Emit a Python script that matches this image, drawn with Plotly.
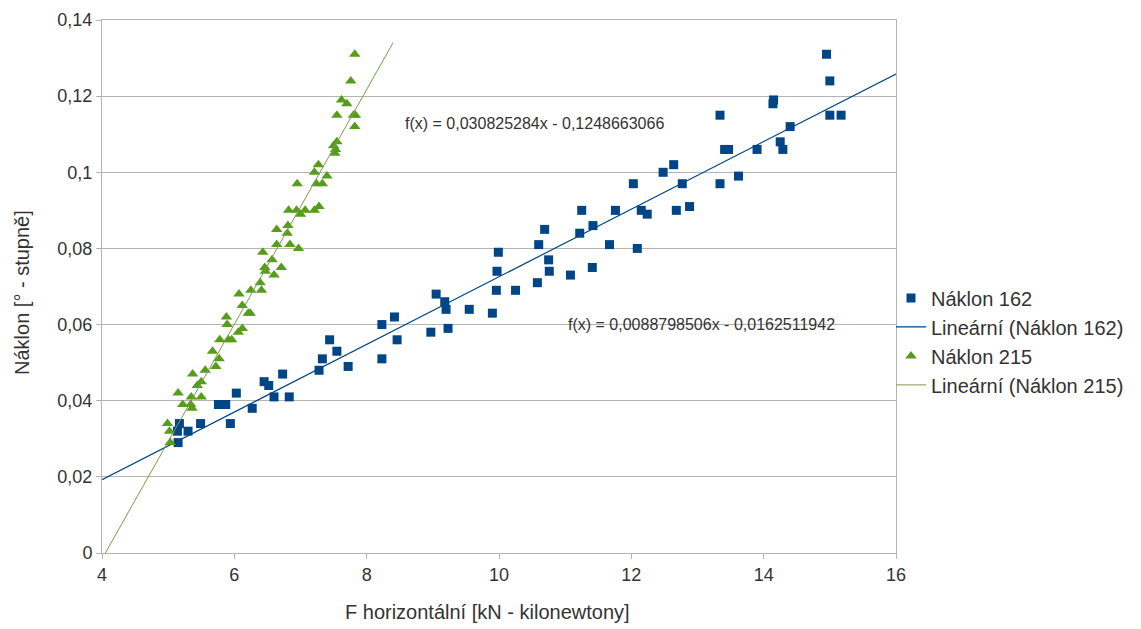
import plotly.graph_objects as go

# Náklon 162 (blue squares)
x162 = [5.14, 5.17, 5.15, 5.30, 5.49, 5.76, 5.87, 5.94, 6.03, 6.27, 6.45, 6.52, 6.60, 6.73, 6.83,
        7.28, 7.33, 7.44, 7.55, 7.72, 8.23, 8.23, 8.42, 8.46, 8.97, 9.05, 9.18, 9.20, 9.23, 9.55,
        9.90, 9.96, 9.97, 9.99, 10.25, 10.58, 10.60, 10.69, 10.75, 10.76, 11.08, 11.22, 11.25, 11.41,
        11.42, 11.67, 11.76, 12.03, 12.09, 12.15, 12.24, 12.48, 12.64, 12.68, 12.77, 12.88, 13.34,
        13.34, 13.41, 13.47, 13.62, 13.90, 14.15, 14.14, 14.25, 14.29, 14.40, 14.95, 15.00, 15.00, 15.17]
y162 = [0.032, 0.034, 0.029, 0.032, 0.034, 0.039, 0.039, 0.034, 0.042, 0.038, 0.045, 0.044, 0.041, 0.047, 0.041,
        0.048, 0.051, 0.056, 0.053, 0.049, 0.051, 0.060, 0.062, 0.056, 0.058, 0.068, 0.066, 0.064, 0.059, 0.064,
        0.063, 0.069, 0.074, 0.079, 0.069, 0.071, 0.081, 0.085, 0.077, 0.074, 0.073, 0.084, 0.090, 0.075,
        0.086, 0.081, 0.090, 0.097, 0.080, 0.090, 0.089, 0.100, 0.102, 0.090, 0.097, 0.091, 0.115,
        0.097, 0.106, 0.106, 0.099, 0.106, 0.119, 0.118, 0.108, 0.106, 0.112, 0.131, 0.124, 0.115, 0.115]

# Náklon 215 (green triangles)
x215 = [7.82, 7.76, 7.62, 7.70, 7.55, 7.80, 7.83, 7.82, 7.50, 7.53, 7.55, 7.52, 7.27, 7.21, 7.40,
        6.95, 7.24, 7.33, 6.82, 6.94, 7.07, 7.00, 7.21, 7.28, 6.64, 6.81, 6.80, 6.64, 6.84, 6.97,
        6.43, 6.57, 6.71, 6.46, 6.47, 6.60, 6.39, 6.41, 6.25, 6.07, 6.12, 6.21, 6.24, 5.88, 5.89,
        6.12, 6.06, 5.78, 5.91, 5.96, 5.67, 5.77, 5.72, 5.37, 5.56, 5.50, 5.44, 5.50, 5.15, 5.35,
        5.22, 5.34, 5.36, 4.99, 5.02, 5.03]
y215 = [0.131, 0.124, 0.119, 0.118, 0.115, 0.115, 0.115, 0.112, 0.107, 0.106, 0.108, 0.105, 0.102, 0.100, 0.099,
        0.097, 0.097, 0.097, 0.090, 0.090, 0.090, 0.089, 0.090, 0.091, 0.085, 0.086, 0.084, 0.081, 0.081, 0.080,
        0.079, 0.077, 0.075, 0.075, 0.074, 0.073, 0.071, 0.069, 0.069, 0.068, 0.065, 0.063, 0.063, 0.062, 0.060,
        0.059, 0.058, 0.056, 0.056, 0.056, 0.053, 0.051, 0.049, 0.047, 0.048, 0.045, 0.044, 0.041, 0.042, 0.041,
        0.039, 0.039, 0.038, 0.034, 0.032, 0.029]

# Trendline coefficients
a162, b162 = 0.0088798506, -0.0162511942
a215, b215 = 0.030825284, -0.1248663066
t162_x = [4, 16]
t215_x = [-b215 / a215, 8.4]

BLUE = "#004586"
GREEN = "#579d1c"
FONT = "Liberation Sans, Arial, sans-serif"

fig = go.Figure()
fig.add_trace(go.Scatter(x=x162, y=y162, mode="markers", name="Náklon 162",
                         marker=dict(symbol="square", size=9, color=BLUE)))
fig.add_trace(go.Scatter(x=t162_x, y=[a162 * v + b162 for v in t162_x], mode="lines",
                         name="Lineární (Náklon 162)", line=dict(color=BLUE, width=1.2)))
fig.add_trace(go.Scatter(x=x215, y=y215, mode="markers", name="Náklon 215",
                         marker=dict(symbol="triangle-up", size=10, color=GREEN)))
fig.add_trace(go.Scatter(x=t215_x, y=[a215 * v + b215 for v in t215_x], mode="lines",
                         name="Lineární (Náklon 215)", line=dict(color="#7f9a4a", width=1)))

fig.add_annotation(x=8.55, y=0.1129, xref="x", yref="y", xanchor="left", yanchor="middle",
                   text="f(x) = 0,030825284x - 0,1248663066", showarrow=False,
                   font=dict(size=16, color="#333333", family=FONT))
fig.add_annotation(x=11.02, y=0.0599, xref="x", yref="y", xanchor="left", yanchor="middle",
                   text="f(x) = 0,0088798506x - 0,0162511942", showarrow=False,
                   font=dict(size=16, color="#333333", family=FONT))

# axis titles
fig.add_annotation(x=0.486, y=-0.1107, xref="paper", yref="paper", xanchor="center", yanchor="middle",
                   text="F horizontální [kN - kilonewtony]", showarrow=False,
                   font=dict(size=20, color="#333333", family=FONT))
fig.add_annotation(x=-0.1008, y=0.4897, xref="paper", yref="paper", xanchor="center", yanchor="middle",
                   text="Náklon [° - stupně]", showarrow=False, textangle=-90,
                   font=dict(size=20, color="#333333", family=FONT))

fig.update_layout(
    width=1141, height=629,
    margin=dict(l=102, r=245, t=20, b=76),
    paper_bgcolor="white", plot_bgcolor="white",
    separators=",.",
    font=dict(family=FONT, size=18, color="#333333"),
    showlegend=True,
    legend=dict(x=0.9937, y=0.397, xanchor="left", yanchor="middle", bgcolor="rgba(0,0,0,0)",
                font=dict(size=20, color="#333333"), tracegroupgap=0, itemwidth=30),
    xaxis=dict(range=[4, 16], tickvals=[4, 6, 8, 10, 12, 14, 16], showgrid=False,
               showline=True, linecolor="#b3b3b3", mirror=True, ticks="outside",
               tickcolor="#b3b3b3", ticklen=5, zeroline=False, automargin=False,
               tickfont=dict(size=18)),
    yaxis=dict(range=[0, 0.14], tickvals=[0, 0.02, 0.04, 0.06, 0.08, 0.1, 0.12, 0.14],
               ticktext=["0", "0,02", "0,04", "0,06", "0,08", "0,1", "0,12", "0,14"],
               showgrid=True, gridcolor="#b3b3b3", showline=True, linecolor="#b3b3b3",
               mirror=True, ticks="outside", tickcolor="#b3b3b3", ticklen=5, zeroline=False,
               automargin=False, tickfont=dict(size=18)),
)

fig.write_html("out.html")
